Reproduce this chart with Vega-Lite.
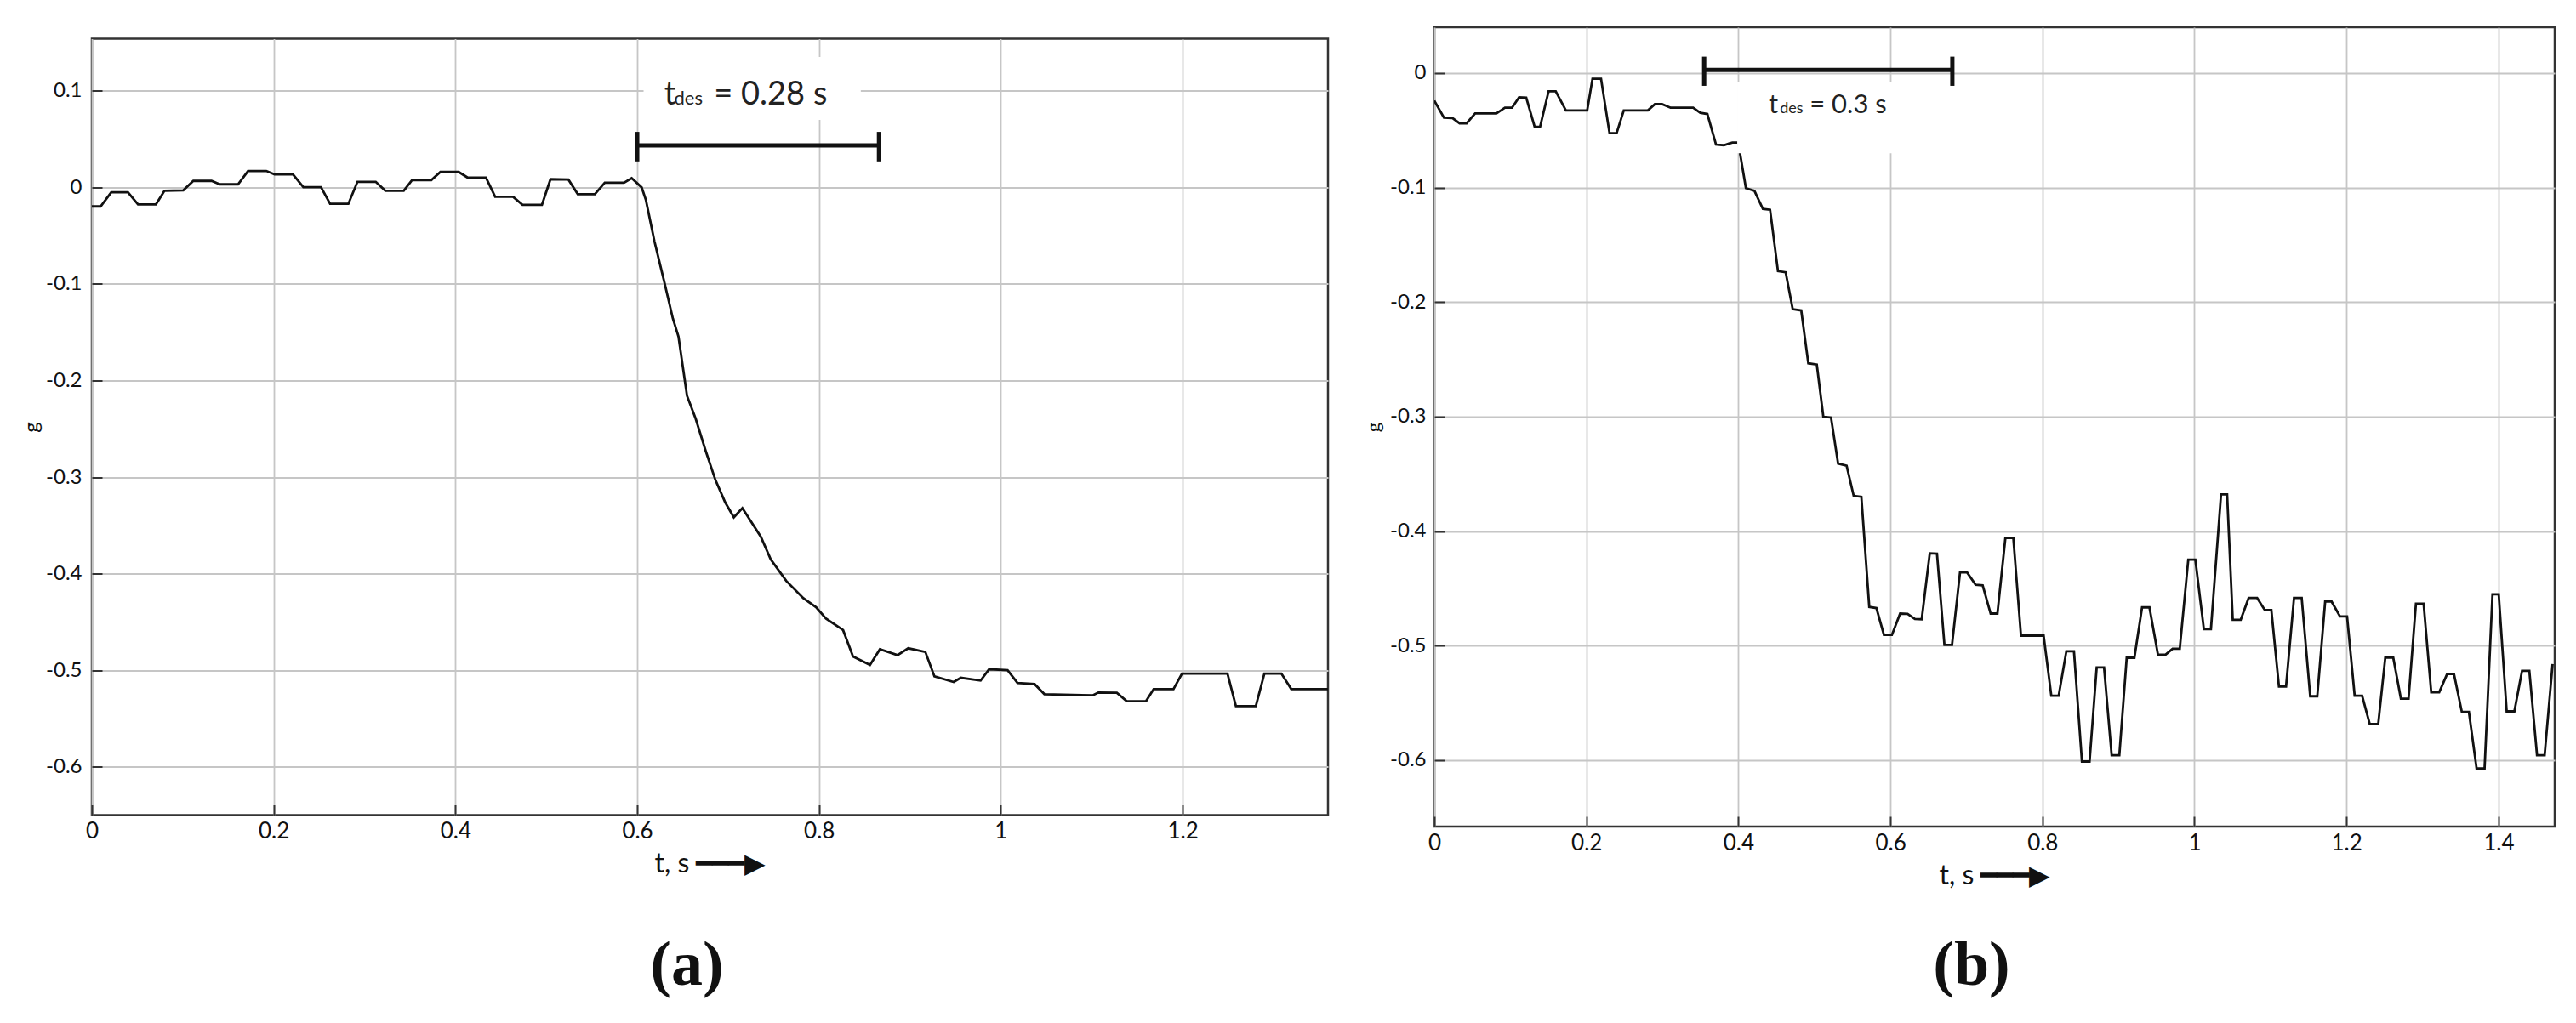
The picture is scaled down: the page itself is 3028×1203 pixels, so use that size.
{
  "$schema": "https://vega.github.io/schema/vega-lite/v6.json",
  "background": "white",
  "padding": {"left": 24, "top": 30, "right": 10, "bottom": 10},
  "autosize": {"type": "pad"},
  "spacing": 125,
  "bounds": "flush",
  "center": true,
  "config": {
    "view": {"stroke": "#333", "strokeWidth": 2.5},
    "axis": {
      "grid": true, "gridColor": "#c6c6c6", "gridWidth": 1.8,
      "domain": false, "ticks": true, "tickSize": -12, "tickColor": "#333", "tickWidth": 2,
      "labelFont": "Lato", "labelColor": "#111",
      "titleFont": "Lato", "titleColor": "#111", "titleFontWeight": "normal"
    },
    "title": {"font": "Liberation Serif", "fontSize": 74, "fontWeight": "bold", "color": "#111", "orient": "bottom", "anchor": "middle", "dx": -27}
  },
  "datasets": {
    "a": [
      {"t":0,"v":-0.0197},{"t":0.0096,"v":-0.0197},{"t":0.0213,"v":-0.005},{"t":0.0397,"v":-0.005},
      {"t":0.0508,"v":-0.0176},{"t":0.0705,"v":-0.0176},{"t":0.0799,"v":-0.0035},{"t":0.1006,"v":-0.003},
      {"t":0.1116,"v":0.0067},{"t":0.1317,"v":0.0067},{"t":0.141,"v":0.0032},{"t":0.1608,"v":0.0032},
      {"t":0.1718,"v":0.017},{"t":0.1919,"v":0.017},{"t":0.201,"v":0.0135},{"t":0.2213,"v":0.0135},
      {"t":0.2327,"v":0.0003},{"t":0.2521,"v":0.0003},{"t":0.2621,"v":-0.017},{"t":0.2822,"v":-0.017},
      {"t":0.2922,"v":0.0058},{"t":0.3123,"v":0.0058},{"t":0.3229,"v":-0.0035},{"t":0.3431,"v":-0.0035},
      {"t":0.3524,"v":0.0076},{"t":0.3735,"v":0.0076},{"t":0.3835,"v":0.016},{"t":0.4036,"v":0.016},
      {"t":0.4133,"v":0.0102},{"t":0.4336,"v":0.0102},{"t":0.4437,"v":-0.0097},{"t":0.4634,"v":-0.0097},
      {"t":0.4738,"v":-0.018},{"t":0.4952,"v":-0.018},{"t":0.5046,"v":0.0085},{"t":0.5243,"v":0.0081},
      {"t":0.5346,"v":-0.007},{"t":0.5534,"v":-0.007},{"t":0.5643,"v":0.0048},{"t":0.5855,"v":0.0048},
      {"t":0.5939,"v":0.0095},{"t":0.6049,"v":0.0},{"t":0.6096,"v":-0.0132},{"t":0.6189,"v":-0.0556},
      {"t":0.6298,"v":-0.098},{"t":0.6392,"v":-0.1357},{"t":0.6454,"v":-0.1545},{"t":0.6548,"v":-0.2158},
      {"t":0.6642,"v":-0.2392},{"t":0.6751,"v":-0.2722},{"t":0.686,"v":-0.3029},{"t":0.6969,"v":-0.3264},
      {"t":0.7063,"v":-0.3416},{"t":0.7157,"v":-0.3321},{"t":0.736,"v":-0.3618},{"t":0.7469,"v":-0.3853},
      {"t":0.764,"v":-0.4075},{"t":0.7828,"v":-0.4254},{"t":0.7968,"v":-0.4348},{"t":0.8077,"v":-0.4466},
      {"t":0.8265,"v":-0.4584},{"t":0.8374,"v":-0.4857},{"t":0.8561,"v":-0.4946},{"t":0.867,"v":-0.4782},
      {"t":0.8864,"v":-0.4843},{"t":0.8982,"v":-0.4772},{"t":0.917,"v":-0.481},{"t":0.927,"v":-0.5064},
      {"t":0.9482,"v":-0.5122},{"t":0.956,"v":-0.5078},{"t":0.9778,"v":-0.5107},{"t":0.9872,"v":-0.499},
      {"t":1.0075,"v":-0.4999},{"t":1.0184,"v":-0.5131},{"t":1.0372,"v":-0.5143},{"t":1.048,"v":-0.5248},
      {"t":1.1011,"v":-0.526},{"t":1.1074,"v":-0.523},{"t":1.1277,"v":-0.5233},{"t":1.1386,"v":-0.5321},
      {"t":1.1598,"v":-0.5321},{"t":1.1682,"v":-0.5195},{"t":1.19,"v":-0.5195},{"t":1.1994,"v":-0.5034},
      {"t":1.2494,"v":-0.5034},{"t":1.2587,"v":-0.5371},{"t":1.2806,"v":-0.5371},{"t":1.29,"v":-0.5034},
      {"t":1.3087,"v":-0.5034},{"t":1.3196,"v":-0.5195},{"t":1.36,"v":-0.5195}
    ],
    "b": [
      {"t":0,"v":-0.0241},{"t":0.0127,"v":-0.039},{"t":0.0239,"v":-0.0394},{"t":0.0332,"v":-0.0439},
      {"t":0.0425,"v":-0.0439},{"t":0.0537,"v":-0.0353},{"t":0.0817,"v":-0.0353},{"t":0.0929,"v":-0.0303},
      {"t":0.1022,"v":-0.0303},{"t":0.1115,"v":-0.0212},{"t":0.1209,"v":-0.0216},{"t":0.132,"v":-0.0469},
      {"t":0.1391,"v":-0.0469},{"t":0.1503,"v":-0.016},{"t":0.1597,"v":-0.016},{"t":0.1731,"v":-0.0327},
      {"t":0.2011,"v":-0.0327},{"t":0.2081,"v":-0.005},{"t":0.2193,"v":-0.005},{"t":0.2305,"v":-0.0526},
      {"t":0.2398,"v":-0.0526},{"t":0.2492,"v":-0.0327},{"t":0.2809,"v":-0.0327},{"t":0.2902,"v":-0.0271},
      {"t":0.2996,"v":-0.0271},{"t":0.3108,"v":-0.0303},{"t":0.3405,"v":-0.0303},{"t":0.3499,"v":-0.0347},
      {"t":0.3592,"v":-0.0358},{"t":0.3706,"v":-0.0625},{"t":0.381,"v":-0.063},{"t":0.392,"v":-0.0607},
      {"t":0.3999,"v":-0.0607},{"t":0.4025,"v":-0.0714},{"t":0.4099,"v":-0.1005},{"t":0.4211,"v":-0.1029},
      {"t":0.4323,"v":-0.1187},{"t":0.4417,"v":-0.1194},{"t":0.4521,"v":-0.173},{"t":0.4622,"v":-0.174},
      {"t":0.4715,"v":-0.2062},{"t":0.4827,"v":-0.2073},{"t":0.492,"v":-0.2535},{"t":0.5032,"v":-0.2546},
      {"t":0.5118,"v":-0.3002},{"t":0.5219,"v":-0.3008},{"t":0.5312,"v":-0.3411},{"t":0.5424,"v":-0.3429},
      {"t":0.5517,"v":-0.3692},{"t":0.5618,"v":-0.37},{"t":0.5722,"v":-0.4662},{"t":0.5816,"v":-0.4672},
      {"t":0.5915,"v":-0.4907},{"t":0.602,"v":-0.4907},{"t":0.6128,"v":-0.472},{"t":0.6226,"v":-0.4722},
      {"t":0.6322,"v":-0.4768},{"t":0.6412,"v":-0.477},{"t":0.6518,"v":-0.4194},{"t":0.6613,"v":-0.4197},
      {"t":0.6711,"v":-0.4993},{"t":0.6811,"v":-0.4993},{"t":0.6916,"v":-0.4361},{"t":0.7009,"v":-0.4361},
      {"t":0.7121,"v":-0.4468},{"t":0.7214,"v":-0.4473},{"t":0.7319,"v":-0.472},{"t":0.7408,"v":-0.472},
      {"t":0.7513,"v":-0.4059},{"t":0.7617,"v":-0.4059},{"t":0.7718,"v":-0.4913},{"t":0.8016,"v":-0.4913},
      {"t":0.8117,"v":-0.5438},{"t":0.8214,"v":-0.5438},{"t":0.8315,"v":-0.5049},{"t":0.8415,"v":-0.5049},
      {"t":0.852,"v":-0.6012},{"t":0.862,"v":-0.6012},{"t":0.8714,"v":-0.519},{"t":0.8811,"v":-0.519},
      {"t":0.8911,"v":-0.5957},{"t":0.9012,"v":-0.5957},{"t":0.9109,"v":-0.5106},{"t":0.921,"v":-0.5106},
      {"t":0.9311,"v":-0.4666},{"t":0.9408,"v":-0.4666},{"t":0.952,"v":-0.5079},{"t":0.962,"v":-0.5079},
      {"t":0.9713,"v":-0.5027},{"t":0.9807,"v":-0.5027},{"t":0.9919,"v":-0.425},{"t":1.0012,"v":-0.425},
      {"t":1.0124,"v":-0.4856},{"t":1.0217,"v":-0.4856},{"t":1.035,"v":-0.368},{"t":1.043,"v":-0.368},
      {"t":1.0504,"v":-0.4774},{"t":1.0609,"v":-0.4774},{"t":1.0713,"v":-0.4584},{"t":1.0825,"v":-0.4584},
      {"t":1.0926,"v":-0.469},{"t":1.1012,"v":-0.469},{"t":1.1112,"v":-0.5358},{"t":1.1205,"v":-0.5358},
      {"t":1.131,"v":-0.4584},{"t":1.1411,"v":-0.4584},{"t":1.1523,"v":-0.5442},{"t":1.1616,"v":-0.5442},
      {"t":1.172,"v":-0.4614},{"t":1.1803,"v":-0.4614},{"t":1.1915,"v":-0.4745},{"t":1.2008,"v":-0.4745},
      {"t":1.2108,"v":-0.5438},{"t":1.2206,"v":-0.5438},{"t":1.2306,"v":-0.5685},{"t":1.2418,"v":-0.5685},
      {"t":1.2511,"v":-0.5104},{"t":1.2615,"v":-0.5104},{"t":1.2716,"v":-0.5463},{"t":1.2817,"v":-0.5463},
      {"t":1.2914,"v":-0.4633},{"t":1.3015,"v":-0.4633},{"t":1.3115,"v":-0.5408},{"t":1.322,"v":-0.5408},
      {"t":1.3325,"v":-0.5247},{"t":1.3414,"v":-0.5247},{"t":1.3518,"v":-0.5579},{"t":1.3611,"v":-0.5579},
      {"t":1.3712,"v":-0.6073},{"t":1.3817,"v":-0.6073},{"t":1.3921,"v":-0.4552},{"t":1.4003,"v":-0.4552},
      {"t":1.4108,"v":-0.5574},{"t":1.4209,"v":-0.5574},{"t":1.431,"v":-0.522},{"t":1.4406,"v":-0.522},
      {"t":1.4507,"v":-0.5957},{"t":1.4607,"v":-0.5957},{"t":1.4712,"v":-0.516}
    ]
  },
  "hconcat": [
    {
      "width": 1453,
      "height": 913,
      "title": {"text": "(a)", "offset": 68},
      "layer": [
        {
          "data": {"name": "a"},
          "mark": {"type": "line", "color": "#111", "strokeWidth": 2.8, "clip": true},
          "encoding": {
            "x": {"field": "t", "type": "quantitative",
              "scale": {"domain": [0, 1.36], "nice": false, "zero": false},
              "axis": {"values": [0, 0.2, 0.4, 0.6, 0.8, 1, 1.2], "labelExpr": "format(datum.value, '~g')",
                "labelFontSize": 26, "labelPadding": 18, "labelFlush": false,
                "title": "t, s \u2501\u2501\u2501\u25b6", "titleFontSize": 32, "titlePadding": 10}},
            "y": {"field": "v", "type": "quantitative",
              "scale": {"domain": [-0.65, 0.154], "nice": false, "zero": false},
              "axis": {"values": [-0.6, -0.5, -0.4, -0.3, -0.2, -0.1, 0, 0.1],
                "labelExpr": "datum.value == 0 ? '0' : replace(format(datum.value, '.1f'), '\u2212', '-')",
                "labelFontSize": 24, "labelPadding": 24,
                "title": "g", "titleFontSize": 24, "titlePadding": 4}}
          }
        },
        {
          "data": {"values": [{"t": 0.607, "t2": 0.846, "v": 0.07, "v2": 0.135}]},
          "mark": {"type": "rect", "fill": "white"},
          "encoding": {
            "x": {"field": "t", "type": "quantitative"}, "x2": {"field": "t2"},
            "y": {"field": "v", "type": "quantitative"}, "y2": {"field": "v2"}
          }
        },
        {
          "data": {"values": [
            {"t": 0.6, "t2": 0.866, "v": 0.0434, "v2": 0.0434},
            {"t": 0.6, "t2": 0.6, "v": 0.0269, "v2": 0.0575},
            {"t": 0.866, "t2": 0.866, "v": 0.0269, "v2": 0.0575}
          ]},
          "mark": {"type": "rule", "color": "#111", "strokeWidth": 5},
          "encoding": {
            "x": {"field": "t", "type": "quantitative"}, "x2": {"field": "t2"},
            "y": {"field": "v", "type": "quantitative"}, "y2": {"field": "v2"}
          }
        },
        {
          "data": {"values": [{"t": 0.6298, "v": 0.0858, "label": "t"}]},
          "mark": {"type": "text", "font": "Lato", "fontSize": 38, "align": "left", "baseline": "alphabetic", "color": "#222"},
          "encoding": {"x": {"field": "t", "type": "quantitative"}, "y": {"field": "v", "type": "quantitative"}, "text": {"field": "label"}}
        },
        {
          "data": {"values": [{"t": 0.6407, "v": 0.0858, "label": "des"}]},
          "mark": {"type": "text", "font": "Lato", "fontSize": 22, "align": "left", "baseline": "alphabetic", "color": "#222"},
          "encoding": {"x": {"field": "t", "type": "quantitative"}, "y": {"field": "v", "type": "quantitative"}, "text": {"field": "label"}}
        },
        {
          "data": {"values": [{"t": 0.6845, "v": 0.0858, "label": "= 0.28 s"}]},
          "mark": {"type": "text", "font": "Lato", "fontSize": 38, "align": "left", "baseline": "alphabetic", "color": "#222"},
          "encoding": {"x": {"field": "t", "type": "quantitative"}, "y": {"field": "v", "type": "quantitative"}, "text": {"field": "label"}}
        }
      ]
    },
    {
      "width": 1317,
      "height": 940,
      "title": {"text": "(b)", "offset": 55},
      "layer": [
        {
          "data": {"name": "b"},
          "mark": {"type": "line", "color": "#111", "strokeWidth": 2.8, "clip": true},
          "encoding": {
            "x": {"field": "t", "type": "quantitative",
              "scale": {"domain": [0, 1.474], "nice": false, "zero": false},
              "axis": {"values": [0, 0.2, 0.4, 0.6, 0.8, 1, 1.2, 1.4], "labelExpr": "format(datum.value, '~g')",
                "labelFontSize": 26, "labelPadding": 18, "labelFlush": false,
                "title": "t, s \u2501\u2501\u2501\u25b6", "titleFontSize": 32, "titlePadding": 10}},
            "y": {"field": "v", "type": "quantitative",
              "scale": {"domain": [-0.658, 0.04], "nice": false, "zero": false},
              "axis": {"values": [-0.6, -0.5, -0.4, -0.3, -0.2, -0.1, 0],
                "labelExpr": "datum.value == 0 ? '0' : replace(format(datum.value, '.1f'), '\u2212', '-')",
                "labelFontSize": 24, "labelPadding": 22,
                "title": "g", "titleFontSize": 22, "titlePadding": 7}}
          }
        },
        {
          "data": {"values": [{"t": 0.3985, "t2": 0.66, "v": -0.0075, "v2": -0.07}]},
          "mark": {"type": "rect", "fill": "white"},
          "encoding": {
            "x": {"field": "t", "type": "quantitative"}, "x2": {"field": "t2"},
            "y": {"field": "v", "type": "quantitative"}, "y2": {"field": "v2"}
          }
        },
        {
          "data": {"values": [
            {"t": 0.355, "t2": 0.6815, "v": 0.0026, "v2": 0.0026},
            {"t": 0.355, "t2": 0.355, "v": -0.0112, "v2": 0.0143},
            {"t": 0.6815, "t2": 0.6815, "v": -0.0112, "v2": 0.0143}
          ]},
          "mark": {"type": "rule", "color": "#111", "strokeWidth": 5},
          "encoding": {
            "x": {"field": "t", "type": "quantitative"}, "x2": {"field": "t2"},
            "y": {"field": "v", "type": "quantitative"}, "y2": {"field": "v2"}
          }
        },
        {
          "data": {"values": [{"t": 0.4398, "v": -0.0353, "label": "t"}]},
          "mark": {"type": "text", "font": "Lato", "fontSize": 31, "align": "left", "baseline": "alphabetic", "color": "#222"},
          "encoding": {"x": {"field": "t", "type": "quantitative"}, "y": {"field": "v", "type": "quantitative"}, "text": {"field": "label"}}
        },
        {
          "data": {"values": [{"t": 0.4547, "v": -0.0353, "label": "des"}]},
          "mark": {"type": "text", "font": "Lato", "fontSize": 18, "align": "left", "baseline": "alphabetic", "color": "#222"},
          "encoding": {"x": {"field": "t", "type": "quantitative"}, "y": {"field": "v", "type": "quantitative"}, "text": {"field": "label"}}
        },
        {
          "data": {"values": [{"t": 0.4938, "v": -0.0353, "label": "= 0.3 s"}]},
          "mark": {"type": "text", "font": "Lato", "fontSize": 31, "align": "left", "baseline": "alphabetic", "color": "#222"},
          "encoding": {"x": {"field": "t", "type": "quantitative"}, "y": {"field": "v", "type": "quantitative"}, "text": {"field": "label"}}
        }
      ]
    }
  ]
}
